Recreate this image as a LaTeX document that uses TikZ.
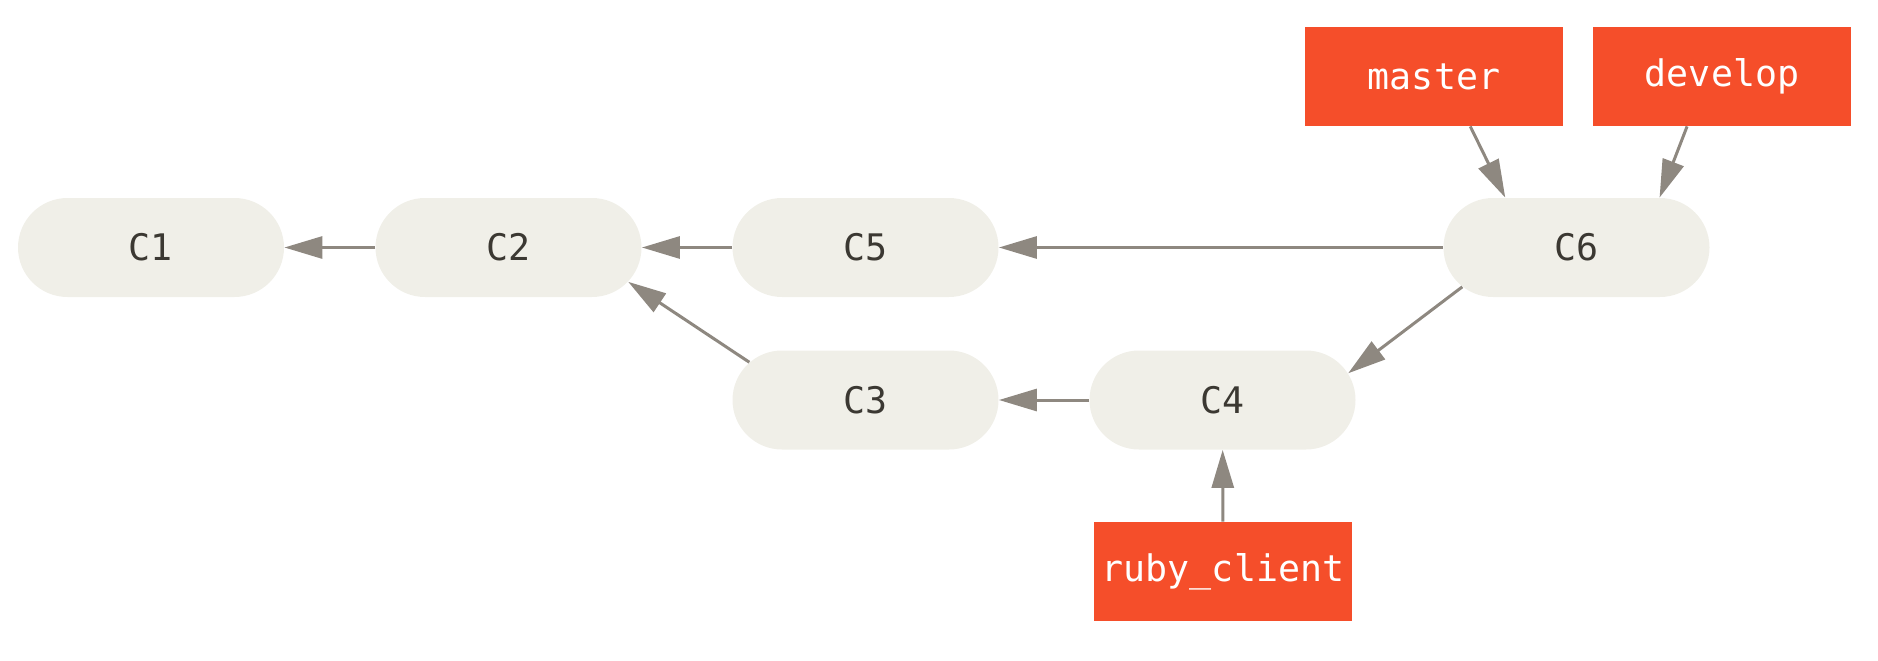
\documentclass[tikz,border=0pt]{standalone}
\usepackage{fontspec}
\setmonofont{DejaVu Sans Mono}
\usepackage{xcolor}
\usetikzlibrary{shapes.misc,arrows.meta}
\definecolor{commitfill}{HTML}{F0EFE8}
\definecolor{committext}{HTML}{3B3832}
\definecolor{branchfill}{HTML}{F54E2A}
\definecolor{linkgray}{HTML}{8E8880}
\tikzstyle{commit} = [rounded rectangle, fill=commitfill, text=committext,
    minimum width=133pt, minimum height=49.5pt, inner sep=0pt,
    font=\ttfamily\fontsize{18.3}{22}\selectfont]
\tikzstyle{branch} = [rectangle, fill=branchfill, text=white,
    minimum width=129pt, minimum height=49.5pt, inner sep=0pt,
    font=\ttfamily\fontsize{18.3}{22}\selectfont]
\tikzstyle{parent} = [draw=linkgray, line width=1.5pt,
    -{Triangle[length=19pt,width=11pt]}]

\begin{document}
\begin{tikzpicture}[x=0.5pt,y=0.5pt]
    \useasboundingbox (0,0) rectangle (1878,660);
    \node [commit] (C1) at (151,412.5) {C1};
    \node [commit] (C2) at (508.5,412.5) {C2};
    \node [commit] (C5) at (865.5,412.5) {C5};
    \node [commit] (C6) at (1576.5,412.5) {C6};
    \node [commit] (C3) at (865.5,260) {C3};
    \node [commit] (C4) at (1222.5,260) {C4};
    \node [branch] (master) at (1434,583.5) {master};
    \node [branch] (develop) at (1722,583.5) {develop};
    \node [branch] (ruby) at (1223,88.5) {ruby\_client};

    \draw [parent] (C2.west) -- (C1.east);
    \draw [parent] (C5.west) -- (C2.east);
    \draw [parent] (C6.west) -- (C5.east);
    \draw [parent] (C4.west) -- (C3.east);
    \draw [parent] (C3.162.5) -- (C2.-16.7);
    \draw [parent] (C6.199) -- (C4.12.8);
    \draw [parent] (master.-54) -- (C6.145.7);
    \draw [parent] (develop.235.5) -- (C6.31.6);
    \draw [parent] (ruby) -- (C4);
\end{tikzpicture}
\end{document}
